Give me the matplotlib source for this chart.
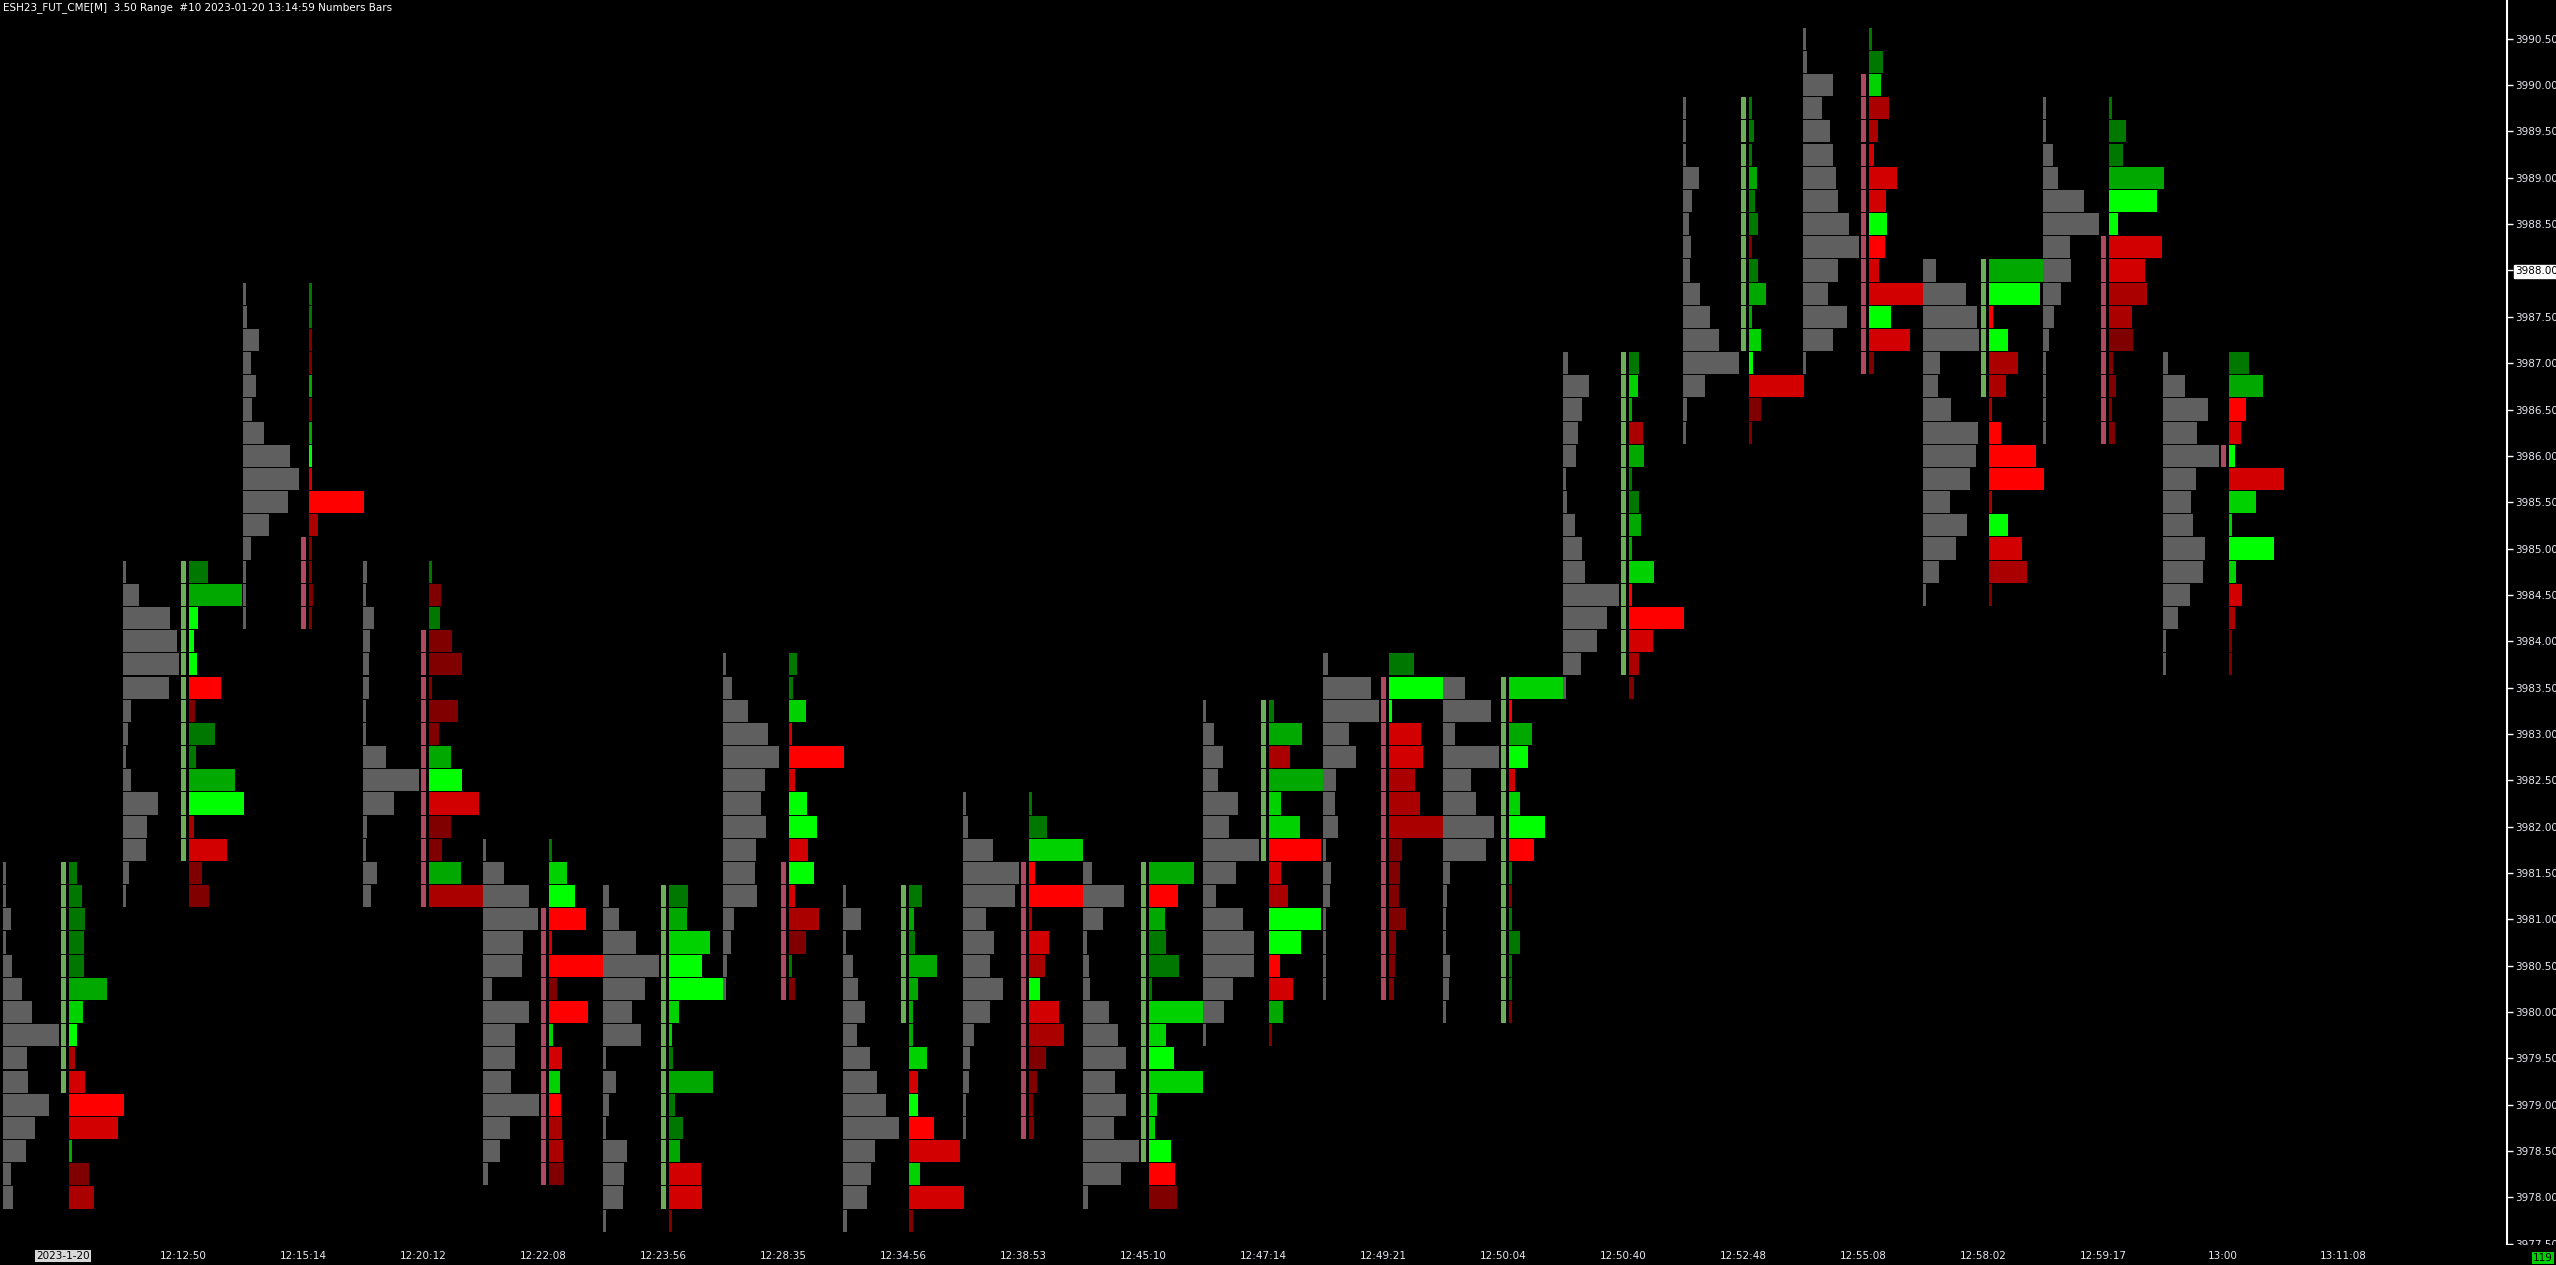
import matplotlib
matplotlib.use('Agg')
import matplotlib.pyplot as plt
import numpy as np

# ESH23 3.50 range - numbers bars (volume profile + delta per livello)
TICK = 0.25

highs = [3981.5, 3984.75, 3987.75, 3984.75, 3981.75, 3981.25, 3983.75, 3981.25, 3982.25, 3981.5,
         3983.25, 3983.75, 3983.5, 3987.0, 3989.75, 3990.5, 3988.0, 3989.75, 3987.0]
opens = [3979.25, 3981.75, 3985.0, 3984.0, 3981.0, 3978.0, 3981.5, 3980.0, 3981.5, 3978.5,
         3981.75, 3983.5, 3980.0, 3983.75, 3987.25, 3990.0, 3986.75, 3988.25, 3986.0]
closes = [3981.5, 3984.75, 3984.25, 3981.25, 3978.25, 3981.25, 3980.25, 3981.25, 3978.75, 3981.5,
          3983.25, 3980.25, 3983.5, 3987.0, 3989.75, 3987.0, 3988.0, 3986.25, 3986.0]

# volumi dall'alto verso il basso
vols = [
    [9, 9, 24, 9, 27, 57, 87, 168, 72, 75, 138, 96, 69, 24, 30],
    [9, 48, 141, 162, 168, 138, 24, 15, 9, 24, 105, 72, 69, 18, 9],
    [9, 12, 48, 24, 39, 27, 63, 141, 168, 135, 78, 24, 9, 9, 9],
    [12, 9, 33, 21, 18, 18, 9, 9, 69, 168, 93, 12, 9, 42, 24],
    [9, 63, 138, 165, 120, 117, 27, 138, 96, 96, 84, 168, 81, 51, 15],
    [18, 48, 99, 168, 126, 87, 114, 9, 39, 18, 9, 72, 63, 60, 9],
    [9, 27, 75, 135, 168, 126, 114, 129, 99, 96, 102, 33, 24, 12, 9],
    [9, 54, 9, 30, 45, 66, 42, 81, 102, 129, 168, 96, 84, 72, 12],
    [9, 15, 90, 168, 156, 69, 93, 81, 120, 81, 33, 21, 18, 9, 9],
    [27, 123, 60, 12, 18, 21, 78, 105, 129, 96, 129, 93, 168, 114, 15],
    [9, 33, 60, 45, 105, 78, 168, 99, 39, 120, 153, 153, 90, 63, 9],
    [15, 144, 168, 78, 99, 39, 36, 45, 9, 24, 21, 9, 9, 9, 9],
    [66, 144, 36, 168, 84, 99, 153, 129, 21, 12, 9, 9, 21, 18, 9],
    [15, 78, 57, 45, 39, 9, 12, 36, 57, 66, 168, 132, 102, 54, 9],
    [9, 9, 9, 48, 27, 18, 24, 21, 51, 81, 108, 168, 66, 12, 9],
    [9, 12, 90, 57, 81, 90, 99, 105, 138, 168, 105, 75, 132, 90, 9],
    [39, 129, 162, 168, 51, 45, 84, 165, 159, 141, 81, 132, 99, 48, 9],
    [9, 9, 30, 45, 123, 168, 81, 84, 54, 33, 18, 9, 9, 9, 9],
    [15, 66, 135, 102, 168, 99, 84, 90, 126, 120, 81, 45, 9, 9],
]

deltas = [
    [24, 39, 48, 45, 45, 114, 42, 24, -18, -48, -165, -147, 9, -60, -75],
    [57, 159, 27, 15, 24, -96, -18, 78, 21, 138, 165, -15, -114, -39, -60],
    [9, 9, -9, -9, 9, -9, 9, 9, -9, -165, -27, -9, -9, -12, -9],
    [9, -36, 33, -69, -96, -9, -84, -30, 66, 96, -147, -66, -39, 93, -162],
    [9, 54, 78, -108, -9, -162, -24, -114, 12, -39, 33, -36, -39, -42, -45],
    [57, 54, 120, 96, 162, 30, 9, 12, 129, 18, 42, 33, -93, -96, -9],
    [24, 12, 51, -9, -165, -18, 54, 84, -57, 75, -18, -90, -51, 9, -18],
    [39, 15, 18, 84, 27, 12, 12, 54, -27, 27, -75, -153, 33, -165, -12],
    [9, 54, 159, -18, -162, -9, -60, -48, 33, -87, -102, -51, -24, -12, -15],
    [132, -84, 48, 51, 87, 9, 162, 51, 75, 159, 24, 18, 66, -78, -81],
    [15, 96, -63, 162, 36, 90, -153, -36, -57, 153, 93, -33, -72, 42, -9],
    [75, 162, 9, -93, -99, -78, -90, -162, -39, -33, -30, -51, -21, -18, -15],
    [162, -9, 69, 57, -18, 33, 105, -75, 9, -9, 9, 33, 9, 9, -9],
    [30, 27, 9, -42, 45, 9, 30, 36, 9, 75, -9, -165, -72, -30, -15],
    [9, 15, 9, 24, 18, 27, -9, 27, 51, 9, 36, 12, -165, -36, -9],
    [9, 42, 36, -60, -27, -15, -81, -51, 54, -48, -30, -162, 66, -120, -15],
    [162, 150, -12, 57, -84, -51, -9, -36, -138, -162, -9, 57, -96, -111, -9],
    [9, 51, 42, 165, 144, 27, -159, -108, -114, -69, -72, -12, -21, -9, -18],
    [60, 102, -51, -36, 18, -165, 81, 9, 135, 21, -39, -18, -9, -9],
]

# intensita' colore delta (1 scuro .. 4 brillante)
shades = [
    [1, 1, 1, 1, 1, 2, 3, 4, 2, 3, 4, 3, 2, 1, 2],
    [1, 2, 4, 4, 4, 4, 1, 1, 1, 2, 4, 2, 3, 1, 1],
    [1, 1, 1, 1, 2, 1, 2, 4, 3, 4, 2, 1, 1, 1, 1],
    [1, 1, 1, 1, 1, 1, 1, 1, 2, 4, 3, 1, 1, 2, 2],
    [1, 3, 4, 4, 3, 4, 1, 4, 3, 3, 3, 4, 2, 2, 1],
    [1, 2, 3, 4, 4, 3, 3, 1, 2, 1, 1, 2, 3, 3, 1],
    [1, 1, 3, 3, 4, 3, 4, 4, 3, 4, 3, 2, 1, 1, 1],
    [1, 2, 1, 2, 2, 2, 2, 3, 3, 4, 4, 3, 3, 3, 1],
    [1, 1, 3, 4, 4, 2, 3, 2, 4, 3, 2, 1, 1, 1, 1],
    [2, 4, 2, 1, 1, 1, 3, 3, 4, 3, 3, 3, 4, 4, 1],
    [1, 2, 2, 2, 3, 3, 4, 3, 2, 4, 4, 4, 3, 2, 1],
    [1, 4, 4, 3, 3, 2, 2, 2, 1, 1, 1, 1, 1, 1, 1],
    [3, 4, 2, 4, 3, 3, 4, 4, 1, 1, 1, 1, 1, 1, 1],
    [1, 3, 2, 2, 2, 1, 1, 2, 2, 3, 4, 4, 3, 2, 1],
    [1, 1, 1, 2, 1, 1, 1, 1, 2, 2, 3, 4, 3, 1, 1],
    [1, 1, 3, 2, 2, 3, 3, 3, 4, 4, 3, 3, 4, 3, 1],
    [2, 4, 4, 4, 2, 2, 2, 4, 4, 4, 2, 4, 3, 2, 1],
    [1, 1, 1, 2, 4, 4, 3, 3, 2, 2, 1, 1, 1, 1, 1],
    [1, 2, 4, 3, 4, 3, 3, 3, 4, 3, 3, 2, 1, 1],
]

time_labels = ['2023-1-20', '12:12:50', '12:15:14', '12:20:12', '12:22:08', '12:23:56', '12:28:35',
               '12:34:56', '12:38:53', '12:45:10', '12:47:14', '12:49:21', '12:50:04', '12:50:40',
               '12:52:48', '12:55:08', '12:58:02', '12:59:17', '13:00', '13:11:08']
last_price = 3988.00
bar_count_label = '119'

GREENS = {1: '#007800', 2: '#00a800', 3: '#00d200', 4: '#00ff00'}
REDS = {1: '#800000', 2: '#aa0000', 3: '#d20000', 4: '#ff0000'}
GRAY = '#5f5f5f'
UP_BODY = '#6fae58'
DN_BODY = '#b04860'

W, H = 2556, 1265
PX = 120.0  # pixel per barra
fig = plt.figure(figsize=(W / 100, H / 100), dpi=100, facecolor='black')
ax = fig.add_axes([0, 20 / H, 2507 / W, 1245 / H], facecolor='black')
ax.set_xlim(0, 2507 / PX)
ax.set_ylim(3990.5 - (1245 - 38.7) / 92.7, 3990.5 + 38.7 / 92.7)

rh = TICK * 0.955
for i in range(len(highs)):
    v = np.array(vols[i], dtype=float)
    d = np.array(deltas[i], dtype=float)
    prices = highs[i] - TICK * np.arange(len(v))
    ax.barh(prices, v / v.max() * 56 / PX, left=i + 3 / PX, height=rh, color=GRAY, linewidth=0)
    cols = [GREENS[s] if dv > 0 else REDS[s] for dv, s in zip(d, shades[i])]
    ax.barh(prices, np.abs(d) / np.abs(d).max() * 55 / PX, left=i + 69 / PX, height=rh,
            color=cols, linewidth=0)
    lo, hi = min(opens[i], closes[i]), max(opens[i], closes[i])
    body = prices[(prices >= lo - 1e-9) & (prices <= hi + 1e-9)]
    bc = UP_BODY if closes[i] > opens[i] else DN_BODY
    if closes[i] == opens[i]:
        bc = DN_BODY
    ax.barh(body, [5 / PX] * len(body), left=i + 61 / PX, height=rh, color=bc, linewidth=0)

for s in ['top', 'left', 'bottom']:
    ax.spines[s].set_visible(False)
ax.spines['right'].set_color('white')
ax.spines['right'].set_linewidth(1.5)
ax.set_xticks([])
ax.yaxis.tick_right()
yt = np.arange(3977.5, 3990.51, 0.5)
ax.set_yticks(yt)
ax.set_yticklabels(['%.2f' % p for p in yt], fontsize=7.5, color='#e8e8f0')
ax.tick_params(axis='y', colors='white', length=4, width=1, pad=2, labelcolor='#e8e8f0')
for lbl in ax.get_yticklabels():
    if lbl.get_text() == '%.2f' % last_price:
        lbl.set_color('black')
        lbl.set_bbox(dict(facecolor='white', edgecolor='white', pad=0.8))

# asse dei tempi
fig.patches.append(matplotlib.patches.Rectangle((0, 0), 1, 20 / H, transform=fig.transFigure,
                                               facecolor='black', edgecolor='none', zorder=5))
for i, t in enumerate(time_labels):
    xf = (i * PX + 63) / W
    if i == 0:
        fig.text(xf, 9 / H, t, ha='center', va='center', fontsize=7.5, color='black', zorder=6,
                 bbox=dict(facecolor='#d8d8d8', edgecolor='none', pad=1))
    else:
        fig.text(xf, 9 / H, t, ha='center', va='center', fontsize=7.5, color='#e8e8f0', zorder=6)
fig.text(2543 / W, 7 / H, bar_count_label, ha='center', va='center', fontsize=7.5, color='black',
         zorder=6, bbox=dict(facecolor='#00d000', edgecolor='none', pad=1))

fig.text(3 / W, 1 - 8 / H, 'ESH23_FUT_CME[M]  3.50 Range  #10 2023-01-20 13:14:59 Numbers Bars',
         ha='left', va='center', fontsize=7.5, color='white')

fig.savefig('out.png', dpi=100, facecolor='black')
